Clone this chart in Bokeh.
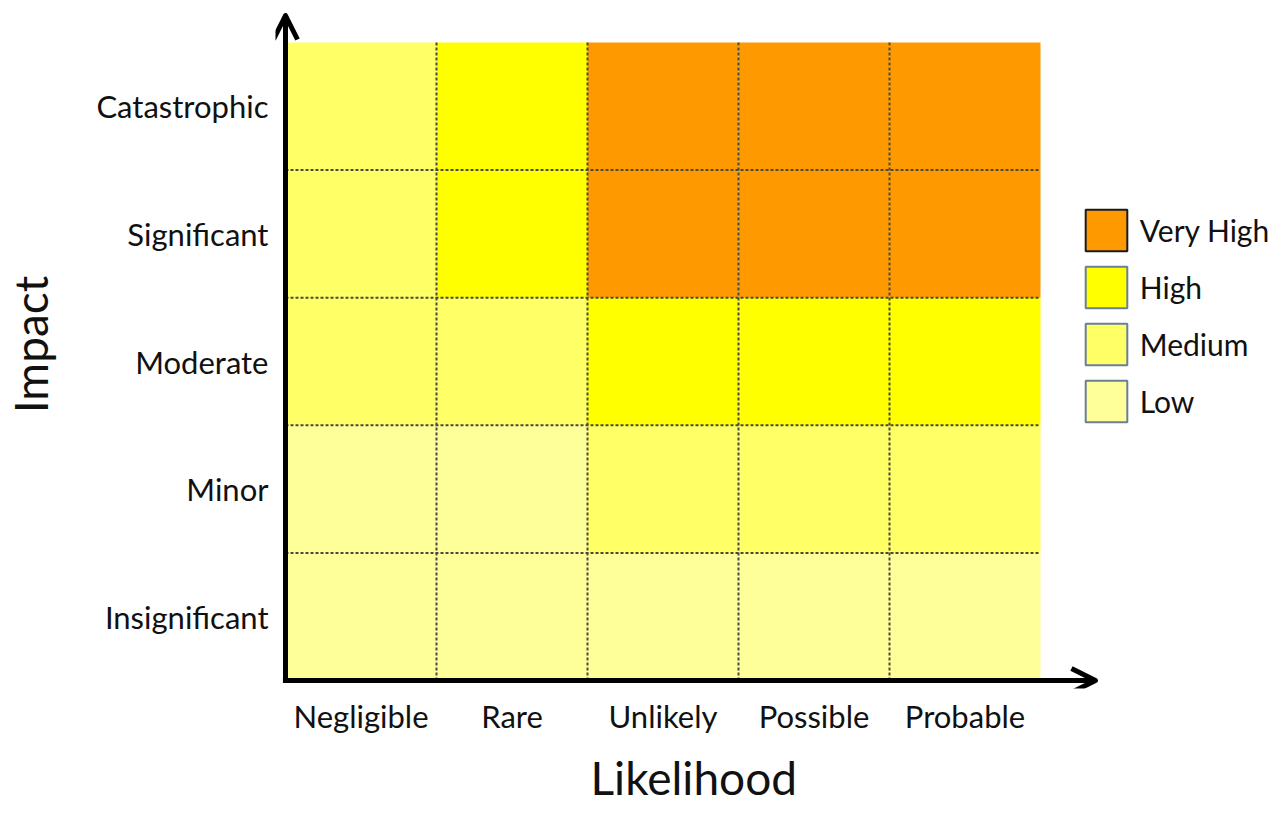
from bokeh.plotting import figure
from bokeh.models import (Range1d, FixedTicker, Arrow, OpenHead, Legend, LegendItem,
                          ColumnDataSource, Title)
from bokeh.embed import file_html
from bokeh.resources import INLINE

# ---------------- data ----------------
likelihood = ["Negligible", "Rare", "Unlikely", "Possible", "Probable"]
impact = ["Insignificant", "Minor", "Moderate", "Significant", "Catastrophic"]  # bottom -> top
levels = ["Very High", "High", "Medium", "Low"]
level_colors = ["#FF9900", "#FFFF00", "#FFFF66", "#FFFF99"]
level_borders = ["#1A1A1A", "#6A7F96", "#6A7F96", "#6A7F96"]
# risk level for each impact row (bottom -> top) and likelihood column
risk_insignificant = ["Low", "Low", "Low", "Low", "Low"]
risk_minor = ["Low", "Low", "Medium", "Medium", "Medium"]
risk_moderate = ["Medium", "Medium", "High", "High", "High"]
risk_significant = ["Medium", "High", "Very High", "Very High", "Very High"]
risk_catastrophic = ["Medium", "High", "Very High", "Very High", "Very High"]
risk = [risk_insignificant, risk_minor, risk_moderate, risk_significant, risk_catastrophic]

FONT = "Lato"
TXT = "#111111"

color_of = dict(zip(levels, level_colors))
xs, ys, cs = [], [], []
for i, row in enumerate(risk):
    for j, lvl in enumerate(row):
        xs.append(j + 0.5)
        ys.append(i + 0.5)
        cs.append(color_of[lvl])
cells = ColumnDataSource(dict(x=xs, y=ys, color=cs))

ncol, nrow = len(likelihood), len(impact)

p = figure(width=1282, height=816, output_backend="svg", toolbar_location=None,
           x_range=Range1d(-0.0662, 6.6026), y_range=Range1d(-0.0627, 5.3292),
           min_border_left=275, min_border_right=0, min_border_top=0,
           min_border_bottom=128)
p.outline_line_color = None
p.xgrid.visible = False
p.ygrid.visible = False
p.background_fill_color = "white"

p.rect(x="x", y="y", width=1, height=1, source=cells, fill_color="color",
       line_color=None)

# dashed internal grid lines
vx = list(range(1, ncol))
p.segment(x0=vx, y0=[0] * len(vx), x1=vx, y1=[nrow] * len(vx),
          line_color="#4A4A3A", line_width=2, line_dash="3 2")
hy = list(range(1, nrow))
p.segment(x0=[0] * len(hy), y0=hy, x1=[ncol] * len(hy), y1=hy,
          line_color="#4A4A3A", line_width=2, line_dash="3 2")

# arrows for axes
p.add_layout(Arrow(end=OpenHead(size=24, line_width=5, line_color="black",
                                line_join="round"),
                   x_start=-0.017, y_start=0, x_end=5.364, y_end=0,
                   line_width=5, line_color="black"))
p.add_layout(Arrow(end=OpenHead(size=24, line_width=5, line_color="black",
                                line_join="round"),
                   x_start=0, y_start=0, x_end=0, y_end=5.2116,
                   line_width=5, line_color="black"))

# axes
xticks = [j + 0.5 for j in range(ncol)]
yticks = [i + 0.5 for i in range(nrow)]
p.xaxis.ticker = FixedTicker(ticks=xticks)
p.yaxis.ticker = FixedTicker(ticks=yticks)
p.xaxis.major_label_overrides = {t: l for t, l in zip(xticks, likelihood)}
p.yaxis.major_label_overrides = {t: l for t, l in zip(yticks, impact)}
for ax in (p.xaxis[0], p.yaxis[0]):
    ax.axis_line_color = None
    ax.major_tick_line_color = None
    ax.minor_tick_line_color = None
    ax.major_tick_out = 0
    ax.major_tick_in = 0
    ax.minor_tick_out = 0
    ax.major_label_text_font = FONT
    ax.major_label_text_font_size = "31px"
    ax.major_label_text_color = TXT
    ax.axis_label_text_font = FONT
    ax.axis_label_text_font_style = "normal"
    ax.axis_label_text_color = TXT
p.yaxis.axis_label = "Impact"
p.yaxis.axis_label_text_font_size = "46px"
p.xaxis.major_label_standoff = 8
p.yaxis.major_label_standoff = 7
p.yaxis.axis_label_standoff = 35
p.yaxis.major_label_orientation = "horizontal"

# x axis title, placed below the axis
p.add_layout(Title(text="Likelihood", align="left", offset=315, standoff=21,
                   text_font=FONT, text_font_size="46px", text_font_style="normal",
                   text_color=TXT), "below")

# legend (placeholder renderers carry only the swatch styles)
nan = float("nan")
items = []
for lvl, col, bc in zip(levels, level_colors, level_borders):
    r = p.rect(x=[nan], y=[nan], width=1, height=1, fill_color=col, line_color=bc,
               line_width=2)
    items.append(LegendItem(label=lvl, renderers=[r]))
legend = Legend(items=items, location=(804.75, 260.75), glyph_width=52, glyph_height=52,
                label_standoff=8, spacing=5, padding=0, margin=0,
                border_line_color=None, background_fill_alpha=0,
                label_text_font=FONT, label_text_font_size="30px",
                label_text_color=TXT, label_height=52)
p.add_layout(legend, "center")

open("out.html", "w").write(file_html(p, INLINE))
